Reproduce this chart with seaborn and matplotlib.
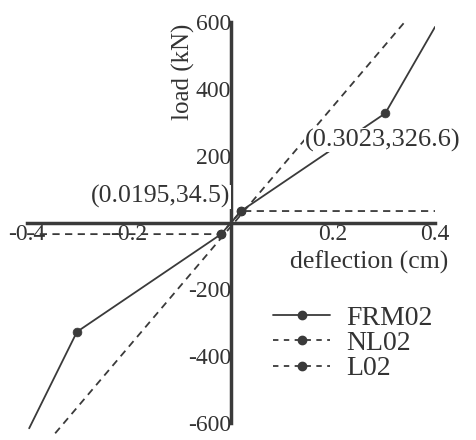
import numpy as np
import pandas as pd
import matplotlib
matplotlib.use("Agg")
import matplotlib.pyplot as plt
import seaborn as sns
from matplotlib.lines import Line2D

# data
frm_x = [-0.396, -0.3023, -0.0195, 0.0, 0.0195, 0.3023, 0.400]
frm_y = [-615, -326.6, -34.5, 0.0, 34.5, 326.6, 585]
frm_mx = [-0.3023, -0.0195, 0.0195, 0.3023]
frm_my = [-326.6, -34.5, 34.5, 326.6]

nl_x = [-0.4, -0.0195, 0.0195, 0.4]
nl_y = [-34.5, -34.5, 34.5, 34.5]
nl_mx = [-0.0195, 0.0195]
nl_my = [-34.5, 34.5]

l_x = [-0.345, 0.339]
l_y = [-630, 597]

xticks = [-0.4, -0.2, 0.2, 0.4]
xticklabels = ["-0.4", "-0.2", "0.2", "0.4"]
yticks = [-600, -400, -200, 200, 400, 600]

sns.set_theme(style="white")
plt.rcParams['font.family'] = ['Liberation Serif', 'DejaVu Serif']
plt.rcParams['axes.unicode_minus'] = False

col = "#3a3a3a"
tcol = "#333333"
fig = plt.figure(figsize=(4.76, 4.4), dpi=100)
ax = fig.add_axes([0.057, 0.0114, 0.857, 0.948])

df_frm = pd.DataFrame({"x": frm_x, "y": frm_y})
df_nl = pd.DataFrame({"x": nl_x, "y": nl_y})
df_l = pd.DataFrame({"x": l_x, "y": l_y})

sns.lineplot(data=df_l, x="x", y="y", sort=False, estimator=None, ax=ax,
             color=col, lw=1.3, linestyle=(0, (4, 3)))
sns.lineplot(data=df_nl, x="x", y="y", sort=False, estimator=None, ax=ax,
             color=col, lw=1.3, linestyle=(0, (4, 3)))
sns.lineplot(data=df_frm, x="x", y="y", sort=False, estimator=None, ax=ax,
             color=col, lw=1.3)
sns.scatterplot(x=frm_mx + nl_mx, y=frm_my + nl_my, ax=ax, color=col, s=40,
                edgecolor=col, zorder=5)

ax.set_xlim(-0.4, 0.4)
ax.set_ylim(-635, 612)

for s in ["top", "right"]:
    ax.spines[s].set_visible(False)
for s in ["left", "bottom"]:
    ax.spines[s].set_position(("data", 0))
    ax.spines[s].set_linewidth(2.5)
    ax.spines[s].set_color(col)
ax.spines["left"].set_bounds(-600, 600)

ax.set_xticks(xticks)
ax.set_xticklabels(xticklabels)
ax.set_xticks([-0.3, -0.1, 0.1, 0.3], minor=True)
ax.set_yticks(yticks)
ax.set_yticks([v for v in range(-550, 600, 50) if v % 200 != 0], minor=True)
ax.tick_params(which="major", direction="in", length=8, width=2, color=col,
               labelsize=17, labelcolor=tcol)
ax.tick_params(which="minor", direction="in", length=5, width=1.5, color=col)
ax.tick_params(axis="y", pad=0)
ax.tick_params(axis="x", pad=1)
ax.set_xlabel("")
ax.set_ylabel("")

ax.text(0.383, 0.87, "load (kN)", transform=ax.transAxes, rotation=90,
        ha="center", va="center", fontsize=18, color=tcol)
ax.text(0.838, 0.415, "deflection (cm)", transform=ax.transAxes,
        ha="center", va="center", fontsize=18.5, color=tcol)

ax.text(-0.139, 77, "(0.0195,34.5)", ha="center", va="center", fontsize=18.5,
        color=tcol, bbox=dict(facecolor="white", edgecolor="none", pad=0.5))
ax.text(0.298, 247, "(0.3023,326.6)", ha="center", va="center", fontsize=19,
        color=tcol, bbox=dict(facecolor="white", edgecolor="none", pad=0.5))

handles = [
    Line2D([], [], color=col, lw=1.3, marker="o", ms=6),
    Line2D([], [], color=col, lw=1.3, ls=(0, (3, 3)), marker="o", ms=6),
    Line2D([], [], color=col, lw=1.3, ls=(0, (3, 3)), marker="o", ms=6),
]
ax.legend(handles, ["FRM02", "NL02", "L02"], loc="upper left",
          bbox_to_anchor=(0.576, 0.338), frameon=False, fontsize=20,
          handlelength=2.05, handletextpad=0.58, labelspacing=0.0,
          borderaxespad=0, labelcolor=tcol)

fig.savefig("out.png", dpi=100)
